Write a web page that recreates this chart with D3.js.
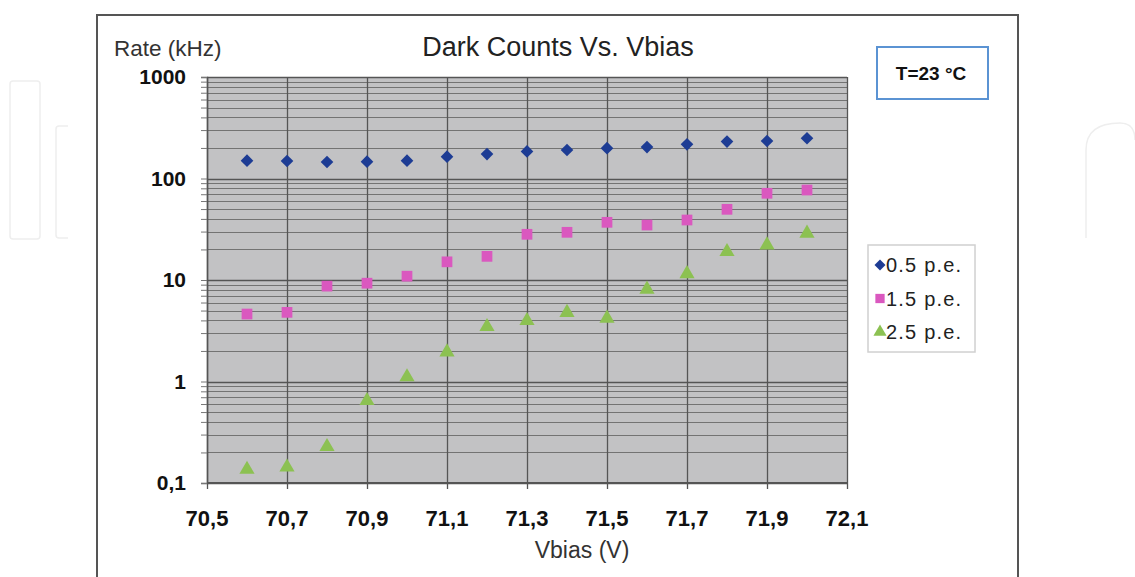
<!DOCTYPE html>
<html>
<head>
<meta charset="utf-8">
<script src="https://cdn.jsdelivr.net/npm/d3@7"></script>
<style>
    body { margin: 0; background: #fff; }
    svg { display: block; font-family: "Liberation Sans", Arial, sans-serif; }
</style>
</head>
<body>
<svg id="grafico" width="1135" height="577"></svg>
<script>

const vbias = [70.6, 70.7, 70.8, 70.9, 71.0, 71.1, 71.2, 71.3, 71.4, 71.5, 71.6, 71.7, 71.8, 71.9, 72.0];
const pe05 = [150, 148.6, 145.5, 146.5, 150, 164, 174, 185, 191, 199, 204, 217, 231, 234, 249];
const pe15 = [4.62, 4.8, 8.7, 9.3, 10.9, 15.1, 17.1, 28.2, 29.5, 37, 34.8, 39, 49.7, 71.5, 77];
const pe25 = [0.136, 0.143, 0.228, 0.647, 1.11, 1.95, 3.47, 3.97, 4.77, 4.2, 8.1, 11.5, 19, 22.1, 28.8];

const xTicks = [70.5, 70.7, 70.9, 71.1, 71.3, 71.5, 71.7, 71.9, 72.1];
const yTicks = [0.1, 1, 10, 100, 1000];
const nomesSeries = ["0.5 p.e.", "1.5 p.e.", "2.5 p.e."];

const svg = d3.select("#grafico");

// marca d'agua ao fundo
const marca = svg.append("g").attr("fill", "none").attr("stroke", "#eeeeee").attr("stroke-width", 1.5);
marca.append("rect").attr("x", 10).attr("y", 81).attr("width", 30).attr("height", 158).attr("rx", 3);
marca.append("path").attr("d", "M68,126 L59,126 Q56,126 56,129 L56,235 Q56,238 59,238 L68,238");
marca.append("path").attr("d", "M1086,238 L1086,150 Q1086,123 1120,123 Q1135,123 1135,140");

// moldura do grafico
svg.append("rect")
    .attr("x", 97).attr("y", 15)
    .attr("width", 921).attr("height", 570)
    .attr("fill", "#fff")
    .attr("stroke", "#555").attr("stroke-width", 2);

const area = {left: 207, top: 77, right: 847, bottom: 483};

const x = d3.scaleLinear().domain([70.5, 72.1]).range([area.left, area.right]);
const y = d3.scaleLog().domain([0.1, 1000]).range([area.bottom, area.top]);

svg.append("rect")
    .attr("x", area.left).attr("y", area.top)
    .attr("width", area.right - area.left).attr("height", area.bottom - area.top)
    .attr("fill", "#c2c2c4");

// linhas secundarias
const menores = [];
for (let d = 0.1; d < 1000; d *= 10) {
    for (let k = 2; k <= 9; k++) menores.push(d * k);
}

svg.append("g").selectAll("line")
    .data(menores)
    .join("line")
        .attr("x1", area.left).attr("x2", area.right)
        .attr("y1", (d) => Math.round(y(d)) + 0.5).attr("y2", (d) => Math.round(y(d)) + 0.5)
        .attr("stroke", "#737373").attr("stroke-width", 1);

svg.append("g").selectAll("line")
    .data(yTicks)
    .join("line")
        .attr("x1", area.left).attr("x2", area.right)
        .attr("y1", (d) => Math.round(y(d)) + 0.5).attr("y2", (d) => Math.round(y(d)) + 0.5)
        .attr("stroke", "#555").attr("stroke-width", 1.5);

svg.append("g").selectAll("line")
    .data(xTicks)
    .join("line")
        .attr("x1", (d) => Math.round(x(d)) + 0.5).attr("x2", (d) => Math.round(x(d)) + 0.5)
        .attr("y1", area.top).attr("y2", area.bottom + 6)
        .attr("stroke", "#555").attr("stroke-width", 1.3);

// eixo y com marcas
const eixoY = d3.axisLeft(y).tickValues(menores.concat(yTicks)).tickFormat("").tickSize(6);
svg.append("g")
    .attr("transform", `translate(${area.left},0)`)
    .call(eixoY)
    .call((g) => g.select(".domain").attr("stroke", "#555").attr("stroke-width", 1.5))
    .call((g) => g.selectAll(".tick line").attr("stroke", "#777"));

svg.append("line")
    .attr("x1", area.left).attr("x2", area.right)
    .attr("y1", area.bottom).attr("y2", area.bottom)
    .attr("stroke", "#555").attr("stroke-width", 2);

// rotulos
svg.append("g").selectAll("text")
    .data(yTicks)
    .join("text")
        .attr("x", 186).attr("y", (d) => y(d))
        .attr("dy", "0.35em")
        .attr("text-anchor", "end")
        .attr("font-size", 21).attr("font-weight", "bold").attr("fill", "#111")
        .text((d) => d === 0.1 ? "0,1" : d3.format("d")(d));

svg.append("g").selectAll("text")
    .data(xTicks)
    .join("text")
        .attr("x", (d) => x(d)).attr("y", 518)
        .attr("dy", "0.35em")
        .attr("text-anchor", "middle")
        .attr("font-size", 22).attr("font-weight", "bold").attr("fill", "#111")
        .text((d) => d3.format(".1f")(d).replace(".", ","));

svg.append("text")
    .attr("x", 558).attr("y", 47).attr("dy", "0.35em")
    .attr("text-anchor", "middle")
    .attr("font-size", 27).attr("fill", "#222")
    .text("Dark Counts Vs. Vbias");

svg.append("text")
    .attr("x", 114).attr("y", 48).attr("dy", "0.35em")
    .attr("font-size", 22.5).attr("fill", "#333")
    .text("Rate (kHz)");

svg.append("text")
    .attr("x", 582).attr("y", 550).attr("dy", "0.35em")
    .attr("text-anchor", "middle")
    .attr("font-size", 23).attr("fill", "#333")
    .text("Vbias (V)");

// caixa da temperatura
svg.append("rect")
    .attr("x", 877).attr("y", 47).attr("width", 111).attr("height", 52)
    .attr("fill", "#fff").attr("stroke", "#5b93d3").attr("stroke-width", 2);
svg.append("text")
    .attr("x", 931).attr("y", 73).attr("dy", "0.35em")
    .attr("text-anchor", "middle")
    .attr("font-size", 19).attr("font-weight", "bold").attr("fill", "#111")
    .text("T=23 °C");

// series
const series = [
    {nome: nomesSeries[0], valores: pe05, cor: "#1d3c94", simbolo: d3.symbolSquare, tamanho: 80, giro: 45},
    {nome: nomesSeries[1], valores: pe15, cor: "#da58bf", simbolo: d3.symbolSquare, tamanho: 115, giro: 0},
    {nome: nomesSeries[2], valores: pe25, cor: "#8cc152", simbolo: d3.symbolTriangle, tamanho: 100, giro: 0}
];

series.forEach((s) => {
    svg.append("g").selectAll("path")
        .data(vbias.map((v, i) => [v, s.valores[i]]))
        .join("path")
            .attr("d", d3.symbol().type(s.simbolo).size(s.tamanho))
            .attr("transform", (d) => `translate(${x(d[0])},${y(d[1])}) rotate(${s.giro})`)
            .attr("fill", s.cor);
});

// legenda
const legenda = svg.append("g");
legenda.append("rect")
    .attr("x", 868).attr("y", 245).attr("width", 107).attr("height", 107)
    .attr("fill", "#fff").attr("stroke", "#d0d0d0").attr("stroke-width", 1.5);

series.forEach((s, i) => {
    const ly = 265 + i * 33.5;
    legenda.append("path")
        .attr("d", d3.symbol().type(s.simbolo).size(s.tamanho * 0.75))
        .attr("transform", `translate(880,${ly}) rotate(${s.giro})`)
        .attr("fill", s.cor);
    legenda.append("text")
        .attr("x", 886).attr("y", ly).attr("dy", "0.35em")
        .attr("font-size", 20).attr("letter-spacing", 1.2).attr("fill", "#222")
        .text(s.nome);
});

</script>
</body>
</html>
